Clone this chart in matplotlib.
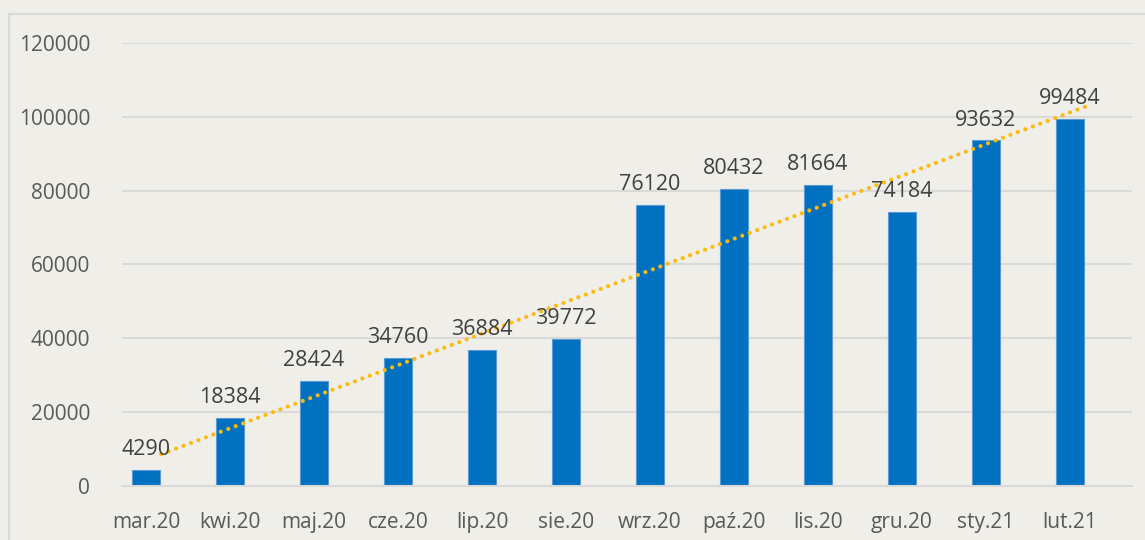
import numpy as np
import matplotlib.pyplot as plt
from matplotlib.patches import Rectangle

months = ['mar.20', 'kwi.20', 'maj.20', 'cze.20', 'lip.20', 'sie.20',
          'wrz.20', 'paź.20', 'lis.20', 'gru.20', 'sty.21', 'lut.21']
values = [4290, 18384, 28424, 34760, 36884, 39772,
          76120, 80432, 81664, 74184, 93632, 99484]
y_ticks = [0, 20000, 40000, 60000, 80000, 100000, 120000]

bg = '#EFEEE9'
bar_blue = '#0070C0'
trend_orange = '#FDBA0C'
grid_grey = '#D9D9D9'

plt.rcParams['font.family'] = ['Open Sans', 'DejaVu Sans']

fig = plt.figure(figsize=(11.45, 5.4), dpi=100, facecolor=bg)
ax = fig.add_axes([0.1066, 0.1, 0.8821, 0.8204], facecolor=bg)

# outer chart border
fig.patches.append(Rectangle((9 / 1145, -0.05), 1.2, 526 / 540 + 0.05,
                             transform=fig.transFigure, fill=False,
                             edgecolor=grid_grey, linewidth=1.6))

x = np.arange(len(months))
ax.bar(x, values, width=0.335, color=bar_blue, edgecolor='#5B9BD5',
       linewidth=0.8, zorder=2)

for xi, v in zip(x, values):
    ax.annotate(str(v), (xi, v), xytext=(0, 7), textcoords='offset points',
                ha='center', va='bottom', fontsize=15.5, color='#404040',
                zorder=4)

# linear trendline
slope, intercept = np.polyfit(x, values, 1)
trend_shift = 0.18
ax.plot(x + trend_shift, slope * x + intercept, color=trend_orange,
        linewidth=3.0, linestyle=(0, (0.01, 1.9)), dash_capstyle='round',
        zorder=3)

ax.set_xlim(-0.286, 11.74)
ax.set_ylim(0, 120000)
ax.set_yticks(y_ticks)
ax.set_yticklabels([str(t) for t in y_ticks])
ax.set_xticks(x)
ax.set_xticklabels(months)
ax.tick_params(axis='y', length=0, pad=23, labelsize=15, labelcolor='#595959')
ax.tick_params(axis='x', length=0, pad=19, labelsize=15, labelcolor='#595959')

ax.grid(axis='y', color=grid_grey, linewidth=1.5, zorder=0)
ax.set_axisbelow(True)
for side in ['top', 'right', 'left']:
    ax.spines[side].set_visible(False)
ax.spines['bottom'].set_color(grid_grey)
ax.spines['bottom'].set_linewidth(1.5)

fig.savefig('out.png', dpi=100, facecolor=bg)
